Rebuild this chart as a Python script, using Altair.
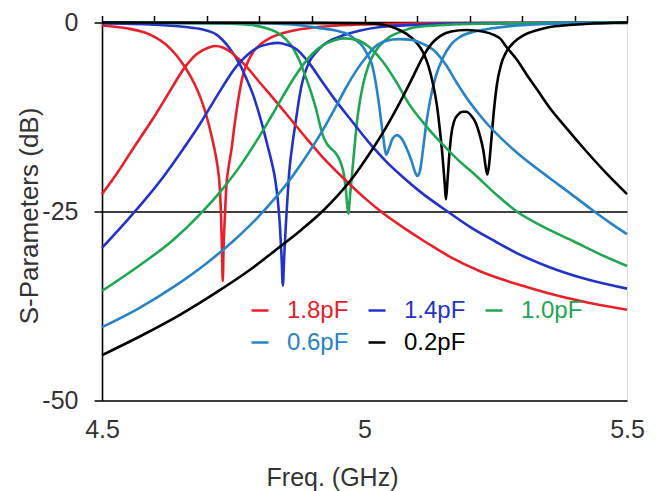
import altair as alt
import pandas as pd

caps = ["1.8pF", "1.4pF", "1.0pF", "0.6pF", "0.2pF"]
colors = ["#E8202A", "#2332C8", "#1FA653", "#2683C6", "#000000"]
x_minor_ticks = [4.5, 4.6, 4.7, 4.8, 4.9, 5.0, 5.1, 5.2, 5.3, 5.4, 5.5]
x_labels = [4.5, 5.0, 5.5]
y_ticks = [-50, -25, 0]

# ---- 1.8 pF ----
s21_18_f = [4.50, 4.53, 4.56, 4.60, 4.63, 4.655, 4.68, 4.70, 4.715, 4.73, 4.745, 4.76, 4.776, 4.80, 4.826,
            4.85, 4.889, 4.92, 4.96, 5.00, 5.035, 5.08, 5.12, 5.163, 5.22, 5.29, 5.35, 5.416, 5.46, 5.50]
s21_18_db = [-22.7, -19.8, -16.6, -12.4, -9.0, -6.2, -4.2, -3.4, -3.1, -3.3, -3.9, -4.8, -5.9, -7.9, -10.0,
             -12.0, -15.3, -17.8, -20.6, -23.2, -25.2, -27.4, -29.2, -31.0, -32.9, -34.6, -35.8, -36.9, -37.5, -38.0]
s11_18_f = [4.50, 4.55, 4.58, 4.60, 4.62, 4.64, 4.655, 4.67, 4.68, 4.69, 4.70, 4.708, 4.715, 4.72, 4.7245,
            4.7265, 4.7285, 4.730, 4.7315, 4.7345, 4.7365, 4.741, 4.747, 4.752, 4.756, 4.762, 4.768, 4.778,
            4.787, 4.80, 4.819, 4.845, 4.87, 4.93, 5.00, 5.10, 5.30, 5.50]
s11_18_db = [-0.4, -0.8, -1.3, -1.9, -2.8, -4.2, -5.6, -7.3, -8.7, -10.4, -12.6, -14.8, -17.0, -19.0, -22.0,
             -25.0, -30.0, -34.2, -30.0, -25.0, -22.0, -19.2, -16.6, -13.8, -11.8, -9.2, -7.1, -5.2,
             -4.0, -3.0, -2.1, -1.4, -1.0, -0.5, -0.25, -0.12, -0.05, 0.0]

# ---- 1.4 pF ----
s21_14_f = [4.50, 4.55, 4.58, 4.617, 4.65, 4.686, 4.72, 4.756, 4.78, 4.80, 4.82, 4.835, 4.85, 4.87, 4.895,
            4.92, 4.947, 4.972, 5.01, 5.04, 5.074, 5.11, 5.15, 5.20, 5.25, 5.29, 5.35, 5.42, 5.50]
s21_14_db = [-29.8, -26.0, -23.6, -20.4, -17.2, -13.5, -9.6, -5.8, -4.1, -3.2, -2.8, -2.7, -2.9, -3.5, -5.4,
             -7.9, -10.5, -12.7, -16.0, -18.3, -20.5, -22.6, -24.6, -27.0, -29.0, -30.5, -32.3, -33.9, -35.2]
s11_14_f = [4.50, 4.60, 4.66, 4.69, 4.718, 4.743, 4.763, 4.778, 4.788, 4.798, 4.807, 4.815, 4.823, 4.830,
            4.835, 4.839, 4.842, 4.8445, 4.847, 4.850, 4.853, 4.857, 4.862, 4.867, 4.873, 4.879, 4.887,
            4.895, 4.907, 4.921, 4.94, 4.96, 4.99, 5.03, 5.10, 5.20, 5.35, 5.50]
s11_14_db = [-0.1, -0.3, -0.6, -0.9, -1.6, -3.4, -5.6, -7.9, -9.6, -11.8, -14.0, -16.2, -18.4, -20.8,
             -23.6, -27.0, -31.0, -34.8, -31.0, -27.0, -23.6, -19.5, -16.5, -14.0, -11.2, -8.7, -6.6,
             -5.2, -4.0, -3.0, -2.2, -1.7, -1.1, -0.6, -0.3, -0.12, -0.05, 0.0]

# ---- 1.0 pF ----
s21_10_f = [4.50, 4.57, 4.635, 4.686, 4.731, 4.765, 4.795, 4.82, 4.845, 4.865, 4.883, 4.90, 4.921, 4.94,
            4.96, 4.985, 5.01, 5.035, 5.06, 5.085, 5.115, 5.147, 5.18, 5.21, 5.25, 5.29, 5.34, 5.40, 5.45, 5.50]
s21_10_db = [-35.5, -32.2, -28.8, -25.4, -21.9, -18.8, -15.6, -12.7, -9.7, -7.4, -5.6, -4.2, -3.0, -2.4,
             -2.1, -2.3, -3.3, -5.2, -7.8, -10.8, -13.5, -16.0, -18.3, -20.1, -22.7, -25.0, -27.0, -29.0, -30.7, -32.2]
s11_10_f = [4.50, 4.70, 4.78, 4.81, 4.833, 4.85, 4.864, 4.877, 4.889, 4.899, 4.908, 4.915, 4.921, 4.928,
            4.935, 4.943, 4.950, 4.956, 4.961, 4.965, 4.969, 4.973, 4.977, 4.981, 4.985, 4.991, 4.998,
            5.008, 5.02, 5.042, 5.07, 5.10, 5.20, 5.35, 5.50]
s11_10_db = [0.0, -0.1, -0.3, -0.7, -1.3, -2.2, -3.4, -5.2, -7.4, -9.4, -11.5, -13.5, -15.0, -16.0,
             -16.6, -17.1, -17.8, -18.8, -20.2, -22.5, -25.3, -22.5, -19.5, -16.5, -13.5, -10.5, -8.0,
             -5.6, -3.9, -2.2, -1.2, -0.6, -0.2, -0.05, 0.0]

# ---- 0.6 pF ----
s21_06_f = [4.50, 4.57, 4.64, 4.70, 4.75, 4.795, 4.83, 4.86, 4.89, 4.92, 4.945, 4.965, 4.985, 5.004,
            5.02, 5.042, 5.065, 5.09, 5.11, 5.131, 5.155, 5.176, 5.20, 5.226, 5.26, 5.29, 5.353, 5.39, 5.43, 5.47, 5.50]
s21_06_db = [-40.3, -37.8, -34.8, -31.8, -28.9, -25.9, -23.2, -20.6, -17.6, -14.3, -11.2, -8.6, -6.3, -4.5,
             -3.2, -2.4, -2.2, -2.3, -2.8, -3.6, -5.6, -8.0, -10.5, -12.8, -15.3, -17.2, -20.6, -22.5, -24.6, -26.6, -28.0]
s11_06_f = [4.50, 4.80, 4.88, 4.92, 4.947, 4.97, 4.985, 4.997, 5.006, 5.014, 5.021, 5.027, 5.032, 5.036,
            5.041, 5.047, 5.054, 5.062, 5.07, 5.08, 5.09, 5.097, 5.101, 5.106, 5.112, 5.118, 5.125, 5.135,
            5.15, 5.165, 5.182, 5.21, 5.24, 5.30, 5.40, 5.50]
s11_06_db = [0.0, -0.1, -0.4, -0.8, -1.1, -1.6, -2.4, -3.2, -4.3, -5.5, -7.8, -10.5, -13.2, -15.3,
             -17.5, -16.6, -15.3, -14.9, -15.3, -16.6, -18.4, -19.9, -20.3, -19.5, -16.5, -13.2, -10.3, -7.3,
             -4.6, -2.9, -1.9, -1.2, -0.8, -0.35, -0.1, 0.0]

# ---- 0.2 pF ----
s21_02_f = [4.50, 4.57, 4.65, 4.72, 4.78, 4.84, 4.88, 4.921, 4.95, 4.98, 5.01, 5.04, 5.068, 5.09, 5.11,
            5.128, 5.144, 5.165, 5.194, 5.225, 5.245, 5.258, 5.27, 5.29, 5.309, 5.33, 5.353, 5.385, 5.417, 5.46, 5.50]
s21_02_db = [-44.0, -41.6, -38.6, -35.6, -32.8, -29.6, -27.4, -24.9, -22.8, -20.3, -17.3, -14.0, -10.5, -7.5, -4.7,
             -2.8, -1.8, -1.2, -1.0, -1.2, -1.6, -2.1, -3.2, -4.9, -6.9, -9.0, -11.3, -14.0, -16.6, -19.9, -22.7]
s11_02_f = [4.50, 4.90, 5.00, 5.036, 5.06, 5.08, 5.097, 5.112, 5.122, 5.131, 5.138, 5.144, 5.149, 5.153,
            5.155, 5.158, 5.161, 5.165, 5.171, 5.178, 5.187, 5.194, 5.203, 5.212, 5.22, 5.227, 5.231, 5.234,
            5.237, 5.241, 5.246, 5.252, 5.26, 5.27, 5.285, 5.303, 5.33, 5.353, 5.42, 5.50]
s11_02_db = [0.0, -0.05, -0.1, -0.3, -0.8, -1.5, -2.5, -4.0, -5.8, -8.3, -11.0, -14.5, -18.0, -21.5,
             -23.4, -21.0, -18.0, -15.0, -13.0, -12.2, -11.8, -11.8, -12.3, -13.3, -15.0, -17.2, -19.2, -20.1,
             -19.0, -16.0, -12.0, -8.3, -5.6, -3.9, -2.6, -1.7, -1.0, -0.6, -0.2, 0.0]

curves = [
    ("1.8pF", "S11", s11_18_f, s11_18_db), ("1.8pF", "S21", s21_18_f, s21_18_db),
    ("1.4pF", "S11", s11_14_f, s11_14_db), ("1.4pF", "S21", s21_14_f, s21_14_db),
    ("1.0pF", "S11", s11_10_f, s11_10_db), ("1.0pF", "S21", s21_10_f, s21_10_db),
    ("0.6pF", "S11", s11_06_f, s11_06_db), ("0.6pF", "S21", s21_06_f, s21_06_db),
    ("0.2pF", "S11", s11_02_f, s11_02_db), ("0.2pF", "S21", s21_02_f, s21_02_db),
]
rows = []
for cap, param, fs, dbs in curves:
    for f, d in zip(fs, dbs):
        rows.append({"cap": cap, "param": param, "f": f, "db": d})
df = pd.DataFrame(rows)

FONT = "Liberation Sans"
TXT = "#333333"

label_color_expr = " : ".join(
    f"datum.label == '{c}' ? '{col}'" for c, col in zip(caps, colors)
) + " : 'black'"

color_enc = alt.Color(
    "cap:N",
    scale=alt.Scale(domain=caps, range=colors),
    legend=alt.Legend(
        title=None, orient="none", legendX=146, legendY=276, columns=3, direction="horizontal",
        symbolType="stroke", symbolSize=289, symbolStrokeWidth=2.5,
        labelFontSize=24, labelFont=FONT, labelOffset=15, columnPadding=14,
        rowPadding=8, padding=0, labelColor={"expr": label_color_expr},
    ),
)

y_axis = alt.Axis(
    values=y_ticks, title="S-Parameters (dB)", grid=True, gridColor="black", gridWidth=1.5,
    gridOpacity=1, domainColor="black", domainWidth=1.6, tickColor="black", tickSize=8,
    tickWidth=1.5, labelFontSize=25, labelFont=FONT, labelColor=TXT, labelPadding=16,
    labelExpr="datum.value + ''",
    titleFontSize=26, titleFont=FONT, titleColor=TXT, titleFontWeight="normal",
    titleX=-73, titleY=193, titleAngle=270, titleBaseline="middle", titleAlign="center",
)
y_enc = alt.Y("db:Q", scale=alt.Scale(domain=[-50, 0], nice=False, zero=False), axis=y_axis)
x_scale = alt.Scale(domain=[4.5, 5.5], nice=False, zero=False)

top_axis = alt.Axis(
    orient="top", values=x_minor_ticks, labels=False, title=None, grid=False,
    domainColor="black", domainWidth=2.6, tickColor="black", tickSize=7, tickWidth=1.5,
)
bottom_axis = alt.Axis(
    orient="bottom", values=x_labels, domain=False, ticks=False, grid=False, format="~g",
    labelFlush=False, labelFontSize=25, labelFont=FONT, labelColor=TXT, labelPadding=17,
    title="Freq. (GHz)", titleFontSize=25, titleFont=FONT, titleColor=TXT,
    titleFontWeight="normal", titleX=230, titleY=85, titleBaseline="alphabetic",
)

s11 = alt.Chart(df[df.param == "S11"]).mark_line(interpolate="monotone", strokeWidth=2.6).encode(
    x=alt.X("f:Q", scale=x_scale, axis=top_axis),
    y=y_enc,
    color=color_enc,
    detail="param:N",
)
s21 = alt.Chart(df[df.param == "S21"]).mark_line(interpolate="monotone", strokeWidth=2.6).encode(
    x=alt.X("f:Q", scale=x_scale, axis=bottom_axis),
    y=y_enc,
    color=color_enc,
    detail="param:N",
)

chart = (
    alt.layer(s11, s21)
    .resolve_axis(x="independent")
    .properties(
        width=525, height=378,
        autosize=alt.AutoSizeParams(type="none"),
        padding={"left": 94, "top": 14.5, "right": 25, "bottom": 90},
    )
    .configure_view(stroke=None)
    .configure(background="white")
)

chart.save("out.html", embed_options={"renderer": "svg", "actions": False})
